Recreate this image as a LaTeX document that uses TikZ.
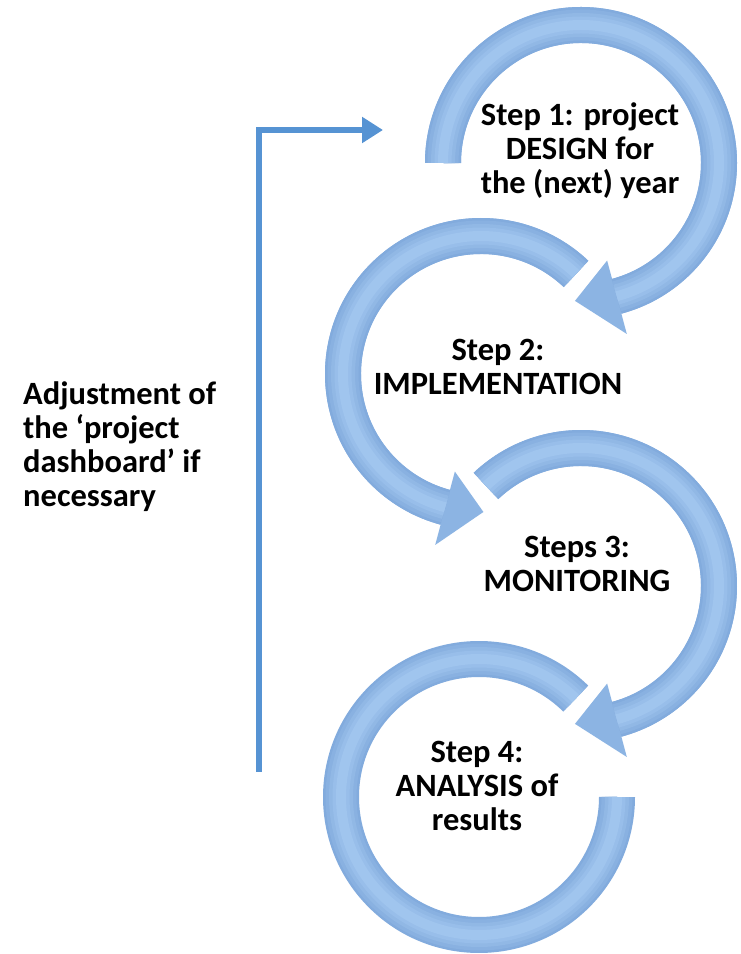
\documentclass[tikz,border=0pt]{standalone}
\usepackage{fontspec}
\setmainfont{Carlito}
\usetikzlibrary{arrows.meta}
\usetikzlibrary{positioning}
\usetikzlibrary{math}
\definecolor{ringblue}{RGB}{130,171,221}
\definecolor{ringlight}{RGB}{160,197,238}
\definecolor{loopblue}{RGB}{86,147,211}
\tikzstyle{ring} = [fill=ringlight!35!ringblue]
\tikzstyle{steptext} = [align=center, font=\bfseries\fontsize{32.5}{34}\selectfont, inner sep=0pt]
\tikzstyle{loop} = [draw=loopblue, line width=6pt, -{Triangle[length=21pt,width=25pt]}]

\begin{document}
\begin{tikzpicture}[x=1pt, y=1pt]

  \tikzmath{\ri = 120; \ro = 156; \rm = 138; \hi = 101; \ho = 177;}
  \fill[white] (0,0) rectangle (741,954);
  \useasboundingbox (0,0) rectangle (741,954);

  % Step 1
  \begin{scope}[shift={(581,791)}]
    \fill[ring] (180:\ro) arc[start angle=180, end angle=-75, radius=\ro]
      -- (-75:\ho) -- (-92.5:\rm) -- (-75:\hi) -- (-75:\ri)
      arc[start angle=-75, end angle=180, radius=\ri] -- cycle;
    \draw[ringblue, line width=36pt] (180:\rm) arc[start angle=180, end angle=-75, radius=\rm];
    \foreach \w/\c in {31/25, 24/50, 17/75, 10/100}
      \draw[ringlight!\c!ringblue, line width=\w pt] (180:\rm) arc[start angle=180, end angle=-75, radius=\rm];
    \node[steptext] (s1) at (-1,12) {Step 1: project\\DESIGN for\\the (next) year};
  \end{scope}

  % Step 2
  \begin{scope}[shift={(481,580)}]
    \fill[ring] (46.5:\ro) arc[start angle=46.5, end angle=255, radius=\ro]
      -- (255:\ho) -- (271:\rm) -- (255:\hi) -- (255:\ri)
      arc[start angle=255, end angle=46.5, radius=\ri] -- cycle;
    \draw[ringblue, line width=36pt] (46.5:\rm) arc[start angle=46.5, end angle=255, radius=\rm];
    \foreach \w/\c in {31/25, 24/50, 17/75, 10/100}
      \draw[ringlight!\c!ringblue, line width=\w pt] (46.5:\rm) arc[start angle=46.5, end angle=255, radius=\rm];
    \node[steptext] (s2) at (17,7) {Step 2:\\IMPLEMENTATION};
  \end{scope}

  % Step 3
  \begin{scope}[shift={(581,368)}]
    \fill[ring] (133.5:\ro) arc[start angle=133.5, end angle=-75, radius=\ro]
      -- (-75:\ho) -- (-92.5:\rm) -- (-75:\hi) -- (-75:\ri)
      arc[start angle=-75, end angle=133.5, radius=\ri] -- cycle;
    \draw[ringblue, line width=36pt] (133.5:\rm) arc[start angle=133.5, end angle=-75, radius=\rm];
    \foreach \w/\c in {31/25, 24/50, 17/75, 10/100}
      \draw[ringlight!\c!ringblue, line width=\w pt] (133.5:\rm) arc[start angle=133.5, end angle=-75, radius=\rm];
    \node[steptext] (s3) at (-4,22) {Steps 3:\\MONITORING};
  \end{scope}

  % Step 4, no head
  \begin{scope}[shift={(479,157)}]
    \draw[ringblue, line width=36pt] (45.5:\rm) arc[start angle=45.5, end angle=360, radius=\rm];
    \foreach \w/\c in {31/25, 24/50, 17/75, 10/100}
      \draw[ringlight!\c!ringblue, line width=\w pt] (45.5:\rm) arc[start angle=45.5, end angle=360, radius=\rm];
    \node[steptext] (s4) at (-2,11) {Step 4:\\ANALYSIS of\\results};
  \end{scope}

  % feedback loop
  \node[steptext, align=left, anchor=west] (adjust) at (23,507)
    {Adjustment of\\the ‘project\\dashboard’ if\\necessary};
  \coordinate (back) at (259,182);
  \coordinate (design) at (383,824);
  \draw[loop] (back) |- (design);

\end{tikzpicture}
\end{document}
